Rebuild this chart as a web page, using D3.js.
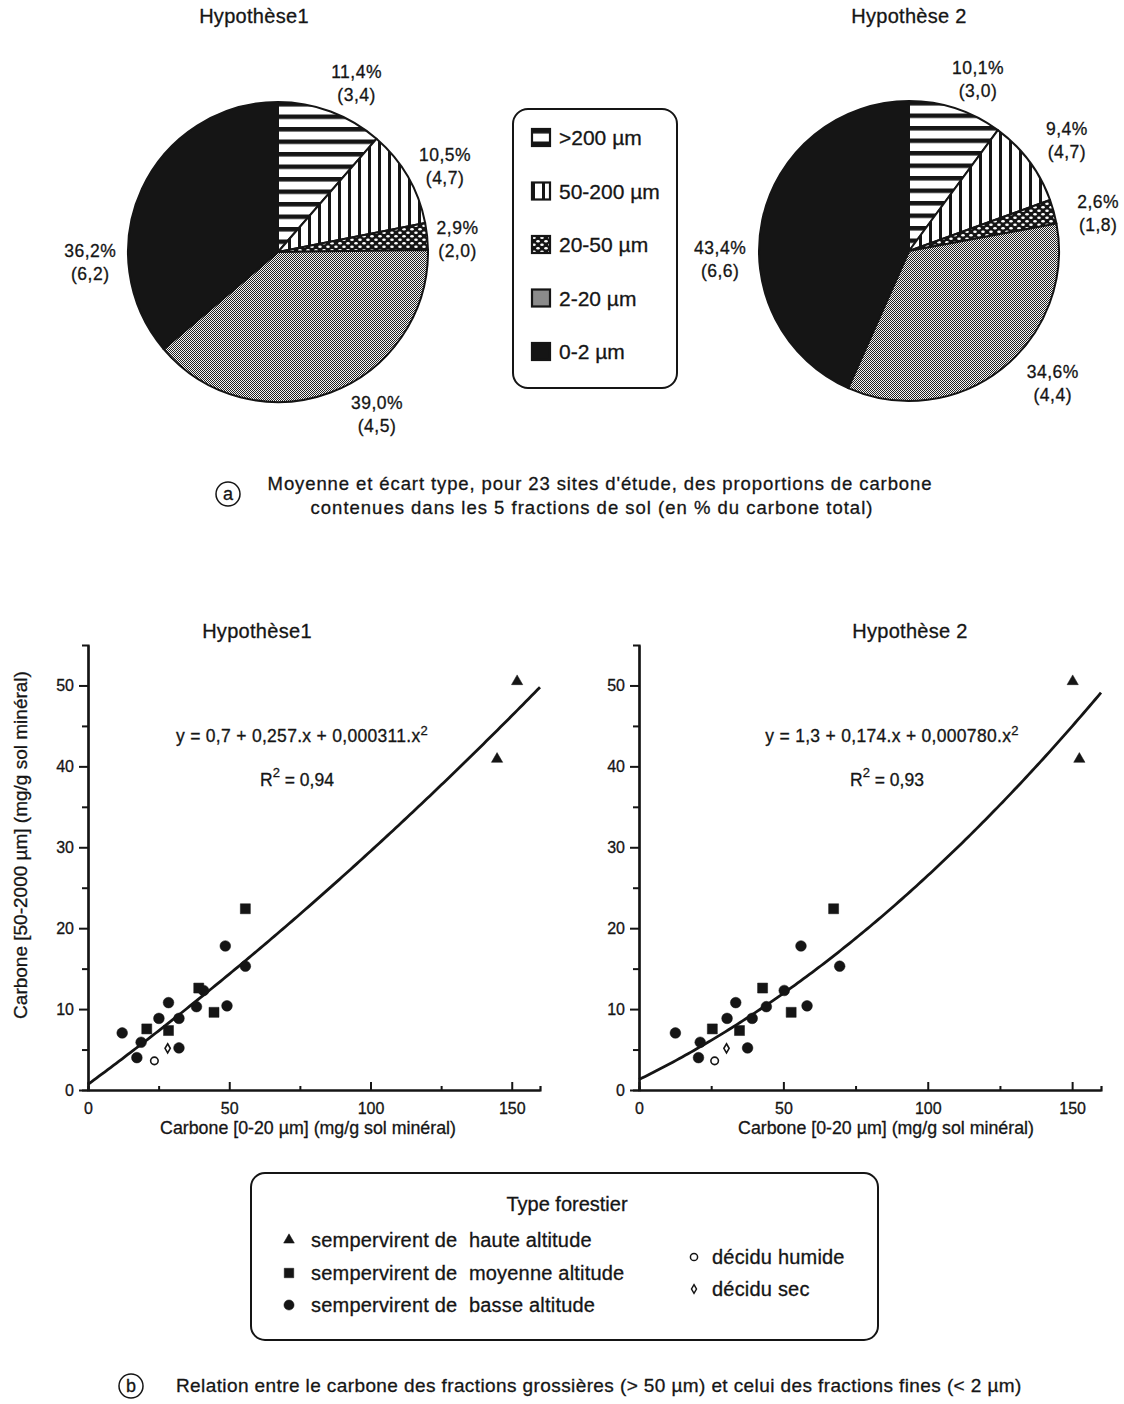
<!DOCTYPE html>
<html><head><meta charset="utf-8">
<script src="https://cdn.jsdelivr.net/npm/d3@7"></script>
<style>
body{margin:0;background:#fff}
svg{display:block}
text{font-family:"Liberation Sans",Arial,Helvetica,sans-serif;fill:#151515;stroke:#151515;stroke-width:0.3px}
</style></head>
<body><svg id="chart" width="1124" height="1404"></svg>
<script>
// ---------------- DATA ----------------
const fractions = [">200 µm", "50-200 µm", "20-50 µm", "2-20 µm", "0-2 µm"];
const hyp1Pct = [11.4, 10.5, 2.9, 39.0, 36.2];
const hyp1Sd  = [3.4, 4.7, 2.0, 4.5, 6.2];
const hyp2Pct = [10.1, 9.4, 2.6, 34.6, 43.4];
const hyp2Sd  = [3.0, 4.7, 1.8, 4.4, 6.6];

const forestTypes = ["sempervirent de  haute altitude", "sempervirent de  moyenne altitude",
  "sempervirent de  basse altitude", "décidu humide", "décidu sec"];
// site type index into forestTypes
const siteType = [0,0,1,2,2,1,2,2,1,2,2,2,2,1,1,2,2,2,2,3,4];
// Carbone [0-20 µm] — hypothèse 1 / hypothèse 2
const fineC1 = [151.9,144.8,55.7,48.6,55.7,39.2,40.9,38.4,44.6,49.2,28.5,25.1,32.2,28.5,20.8,12.1,18.8,17.3,32.2,23.5,28.2];
const fineC2 = [150.2,152.5,67.4,56.1,69.5,42.8,50.3,44.1,52.7,58.2,33.5,30.5,39.2,34.8,25.4,12.6,21.2,20.6,37.6,26.2,30.3];
// Carbone [50-2000 µm]
const coarseC = [50.5,40.9,22.4,17.8,15.3,12.6,12.3,10.3,9.6,10.4,10.8,8.85,8.85,7.35,7.55,7.05,5.9,4.0,5.2,3.6,5.15];
// regression coefficients [a, b, c] : y = a + b.x + c.x²
const fit1 = [0.7, 0.257, 0.000311];
const fit2 = [1.3, 0.174, 0.000780];
const fit1Text = ["y = 0,7 + 0,257.x + 0,000311.x", "0,94"];
const fit2Text = ["y = 1,3 + 0,174.x + 0,000780.x", "0,93"];
const xTicks = [0, 50, 100, 150];
const xMinor = [25, 75, 125];
const yTicks = [0, 10, 20, 30, 40, 50];
const yMinor = [5, 15, 25, 35, 45];

// ---------------- LAYOUT ----------------
const svg = d3.select("#chart");
const defs = svg.append("defs");
const INK = "#151515";

function addPatterns(prefix){
  let p = defs.append("pattern").attr("id", prefix+"h").attr("patternUnits","userSpaceOnUse").attr("width",10).attr("height",12.5);
  p.append("rect").attr("width",10).attr("height",12.5).attr("fill","#fff");
  p.append("rect").attr("width",10).attr("height",4.5).attr("fill",INK);
  p = defs.append("pattern").attr("id", prefix+"v").attr("patternUnits","userSpaceOnUse").attr("width",10).attr("height",10);
  p.append("rect").attr("width",10).attr("height",10).attr("fill","#fff");
  p.append("rect").attr("width",3).attr("height",10).attr("fill",INK);
  p = defs.append("pattern").attr("id", prefix+"c").attr("patternUnits","userSpaceOnUse").attr("width",8).attr("height",7);
  p.append("rect").attr("width",8).attr("height",7).attr("fill",INK);
  p.append("ellipse").attr("cx",2).attr("cy",1.8).attr("rx",1.8).attr("ry",1.2).attr("fill","#fff");
  p.append("ellipse").attr("cx",6).attr("cy",5.3).attr("rx",1.8).attr("ry",1.2).attr("fill","#fff");
  p = defs.append("pattern").attr("id", prefix+"s").attr("patternUnits","userSpaceOnUse").attr("width",2).attr("height",2);
  p.append("rect").attr("width",2).attr("height",2).attr("fill","#f4f4f4");
  p.append("rect").attr("width",1).attr("height",1).attr("fill","#222");
  p.append("rect").attr("x",1).attr("y",1).attr("width",1).attr("height",1).attr("fill","#222");
}
addPatterns("p");
const fills = ["url(#ph)","url(#pv)","url(#pc)","url(#ps)",INK];

const pieLayouts = [
  {cx:278, cy:252, r:150, title:"Hypothèse1", tx:254, ty:23, pct:hyp1Pct, sd:hyp1Sd,
   lblAng:[25,62.7,86,148.6,267], lblR:[186,188,180,190,188]},
  {cx:909, cy:251, r:150, title:"Hypothèse 2", tx:909, ty:23, pct:hyp2Pct, sd:hyp2Sd,
   lblAng:[21.9,54.9,78.6,132.5,267.6], lblR:[185,193,193,195,189]}
];
const fmt = v => d3.format(".1f")(v).replace(".", ",");

pieLayouts.forEach(L => {
  svg.append("text").attr("x",L.tx).attr("y",L.ty).attr("text-anchor","middle")
     .attr("font-size",20).attr("letter-spacing",0.3).text(L.title);
  const pie = d3.pie().sort(null).value(d=>d)(L.pct);
  const arc = d3.arc().innerRadius(0).outerRadius(L.r);
  const g = svg.append("g").attr("transform",`translate(${L.cx},${L.cy})`);
  g.selectAll("path").data(pie).join("path")
    .attr("d",arc).attr("fill",(d,i)=>fills[i])
    .attr("stroke",INK).attr("stroke-width",2).attr("stroke-linejoin","round");
  pie.forEach((d,i)=>{
    const a = L.lblAng[i]*Math.PI/180, R = L.lblR[i];
    const x = R*Math.sin(a), y = -R*Math.cos(a);
    const t = g.append("text").attr("text-anchor","middle").attr("font-size",17.5).attr("letter-spacing",0.5);
    t.append("tspan").attr("x",x).attr("y",y-5).text(fmt(L.pct[i])+"%");
    t.append("tspan").attr("x",x).attr("y",y+18).text("("+fmt(L.sd[i])+")");
  });
});

// pie legend
const lg = svg.append("g");
lg.append("rect").attr("x",513).attr("y",109).attr("width",164).attr("height",279)
  .attr("rx",15).attr("fill","#fff").attr("stroke",INK).attr("stroke-width",2);
fractions.forEach((f,i)=>{
  const y = 138 + i*53.5;
  const sg = lg.append("g").attr("transform",`translate(532,${y-9})`);
  sg.append("rect").attr("x",0).attr("y",0).attr("width",18).attr("height",17)
    .attr("fill",fills[i]).attr("stroke",INK).attr("stroke-width",2.2);
  lg.append("text").attr("x",559).attr("y",y+7).attr("font-size",21).text(f);
});

// caption a
function captionCircle(cx,cy,ch){
  svg.append("circle").attr("cx",cx).attr("cy",cy).attr("r",12).attr("fill","none").attr("stroke",INK).attr("stroke-width",1.5);
  svg.append("text").attr("x",cx).attr("y",cy+6).attr("text-anchor","middle").attr("font-size",18).text(ch);
}
captionCircle(228,494,"a");
svg.append("text").attr("x",600).attr("y",490).attr("text-anchor","middle").attr("font-size",18.5)
  .attr("letter-spacing",0.9).text("Moyenne et écart type, pour 23 sites d'étude, des proportions de carbone");
svg.append("text").attr("x",592).attr("y",514).attr("text-anchor","middle").attr("font-size",18.5)
  .attr("letter-spacing",1.0).text("contenues dans les 5 fractions de sol (en % du carbone total)");

// ---------------- SCATTER ----------------
const scatterLayouts = [
  {x0:88, x1:540, title:"Hypothèse1", tx:257, fineC:fineC1, fit:fit1, ftxt:fit1Text, ex:302, lblX:308, lblY:1134, ylabel:true},
  {x0:639, x1:1101, title:"Hypothèse 2", tx:910, fineC:fineC2, fit:fit2, ftxt:fit2Text, ex:892, lblX:886, lblY:1134, ylabel:false}
];
const yBottom = 1090, yTop = 645;

const symbolFor = t => {
  if (t===0) return {type:d3.symbolTriangle, size:55, fill:INK};
  if (t===1) return {type:d3.symbolSquare, size:100, fill:INK};
  if (t===2) return {type:d3.symbolCircle, size:90, fill:INK};
  if (t===3) return {type:d3.symbolCircle, size:45, fill:"#fff"};
  return {type:d3.symbolDiamond, size:24, fill:"#fff"};
};

scatterLayouts.forEach(L=>{
  const x = d3.scaleLinear().domain([0,160]).range([L.x0,L.x1]);
  const y = d3.scaleLinear().domain([0,55]).range([yBottom,yTop]);
  svg.append("text").attr("x",L.tx).attr("y",638).attr("text-anchor","middle").attr("font-size",20).attr("letter-spacing",0.3).text(L.title);

  const gy = svg.append("g").attr("transform",`translate(${L.x0},0)`);
  gy.call(d3.axisLeft(y).tickValues(yTicks).tickSize(9).tickSizeOuter(0).tickPadding(5));
  gy.append("g").call(d3.axisLeft(y).tickValues(yMinor).tickSize(6).tickFormat(""));
  const gx = svg.append("g").attr("transform",`translate(0,${yBottom})`);
  gx.call(d3.axisBottom(x).tickValues(xTicks).tickSize(-8).tickSizeOuter(0).tickPadding(12));
  gx.append("g").call(d3.axisBottom(x).tickValues(xMinor).tickSize(-4).tickFormat(""));
  svg.selectAll(".domain").attr("stroke",INK).attr("stroke-width",2.2);
  svg.selectAll(".tick line").attr("stroke",INK).attr("stroke-width",2);
  svg.selectAll(".tick text").attr("font-size",16).attr("font-family","Liberation Sans, Arial, sans-serif").attr("fill","#151515");
  gx.selectAll(".tick text").attr("dy","0.75em");

  // fit curve
  const xs = d3.range(0, 160.01, 1);
  const line = d3.line().x(d=>x(d)).y(d=>y(L.fit[0]+L.fit[1]*d+L.fit[2]*d*d));
  svg.append("path").datum(xs.filter(d=> (L.fit[0]+L.fit[1]*d+L.fit[2]*d*d) <= 49.9))
    .attr("d",line).attr("fill","none").attr("stroke",INK).attr("stroke-width",2.8);

  // points
  siteType.forEach((t,i)=>{
    const s = symbolFor(t);
    svg.append("path").attr("d",d3.symbol().type(s.type).size(s.size)())
      .attr("transform",`translate(${x(L.fineC[i])},${y(coarseC[i])})`)
      .attr("fill",s.fill).attr("stroke",INK).attr("stroke-width",t>=3?1.6:0.5);
  });

  // equation
  const eq = svg.append("text").attr("x",L.ex).attr("y",742).attr("text-anchor","middle").attr("font-size",17.5).attr("letter-spacing",0.3);
  eq.append("tspan").text(L.ftxt[0]);
  eq.append("tspan").attr("dy",-7).attr("font-size",13).text("2");
  const r2 = svg.append("text").attr("x",L.ex-5).attr("y",786).attr("text-anchor","middle").attr("font-size",17.5);
  r2.append("tspan").text("R");
  r2.append("tspan").attr("dy",-9).attr("font-size",13).text("2");
  r2.append("tspan").attr("dy",9).text("  = "+L.ftxt[1]);

  svg.append("text").attr("x",L.lblX).attr("y",L.lblY).attr("text-anchor","middle").attr("font-size",17.8).text("Carbone [0-20 µm] (mg/g sol minéral)");
  if (L.ylabel){
    svg.append("text").attr("transform","translate(27,845) rotate(-90)").attr("text-anchor","middle")
      .attr("font-size",19).text("Carbone [50-2000 µm] (mg/g sol minéral)");
  }
});

// legend b
const lb = svg.append("g");
lb.append("rect").attr("x",251).attr("y",1173).attr("width",627).attr("height",167).attr("rx",14)
  .attr("fill","#fff").attr("stroke",INK).attr("stroke-width",2);
lb.append("text").attr("x",567).attr("y",1211).attr("text-anchor","middle").attr("font-size",20).text("Type forestier");
const legPos = [[289,1240],[289,1273],[289,1305],[694,1257],[694,1289]];
forestTypes.forEach((f,i)=>{
  const s = symbolFor(i);
  lb.append("path").attr("d",d3.symbol().type(s.type).size(s.size*0.9)())
    .attr("transform",`translate(${legPos[i][0]},${legPos[i][1]})`)
    .attr("fill",s.fill).attr("stroke",INK).attr("stroke-width",i>=3?1.5:0.5);
  lb.append("text").attr("x",legPos[i][0]+(i>=3?18:22)).attr("y",legPos[i][1]+7).attr("font-size",20).attr("letter-spacing",0.2)
    .style("white-space","pre").text(f);
});

captionCircle(131,1386,"b");
svg.append("text").attr("x",176).attr("y",1392).attr("font-size",19).attr("letter-spacing",0.4)
  .text("Relation entre le carbone des fractions grossières (> 50 µm) et celui des fractions fines (< 2 µm)");
</script>
</body></html>
